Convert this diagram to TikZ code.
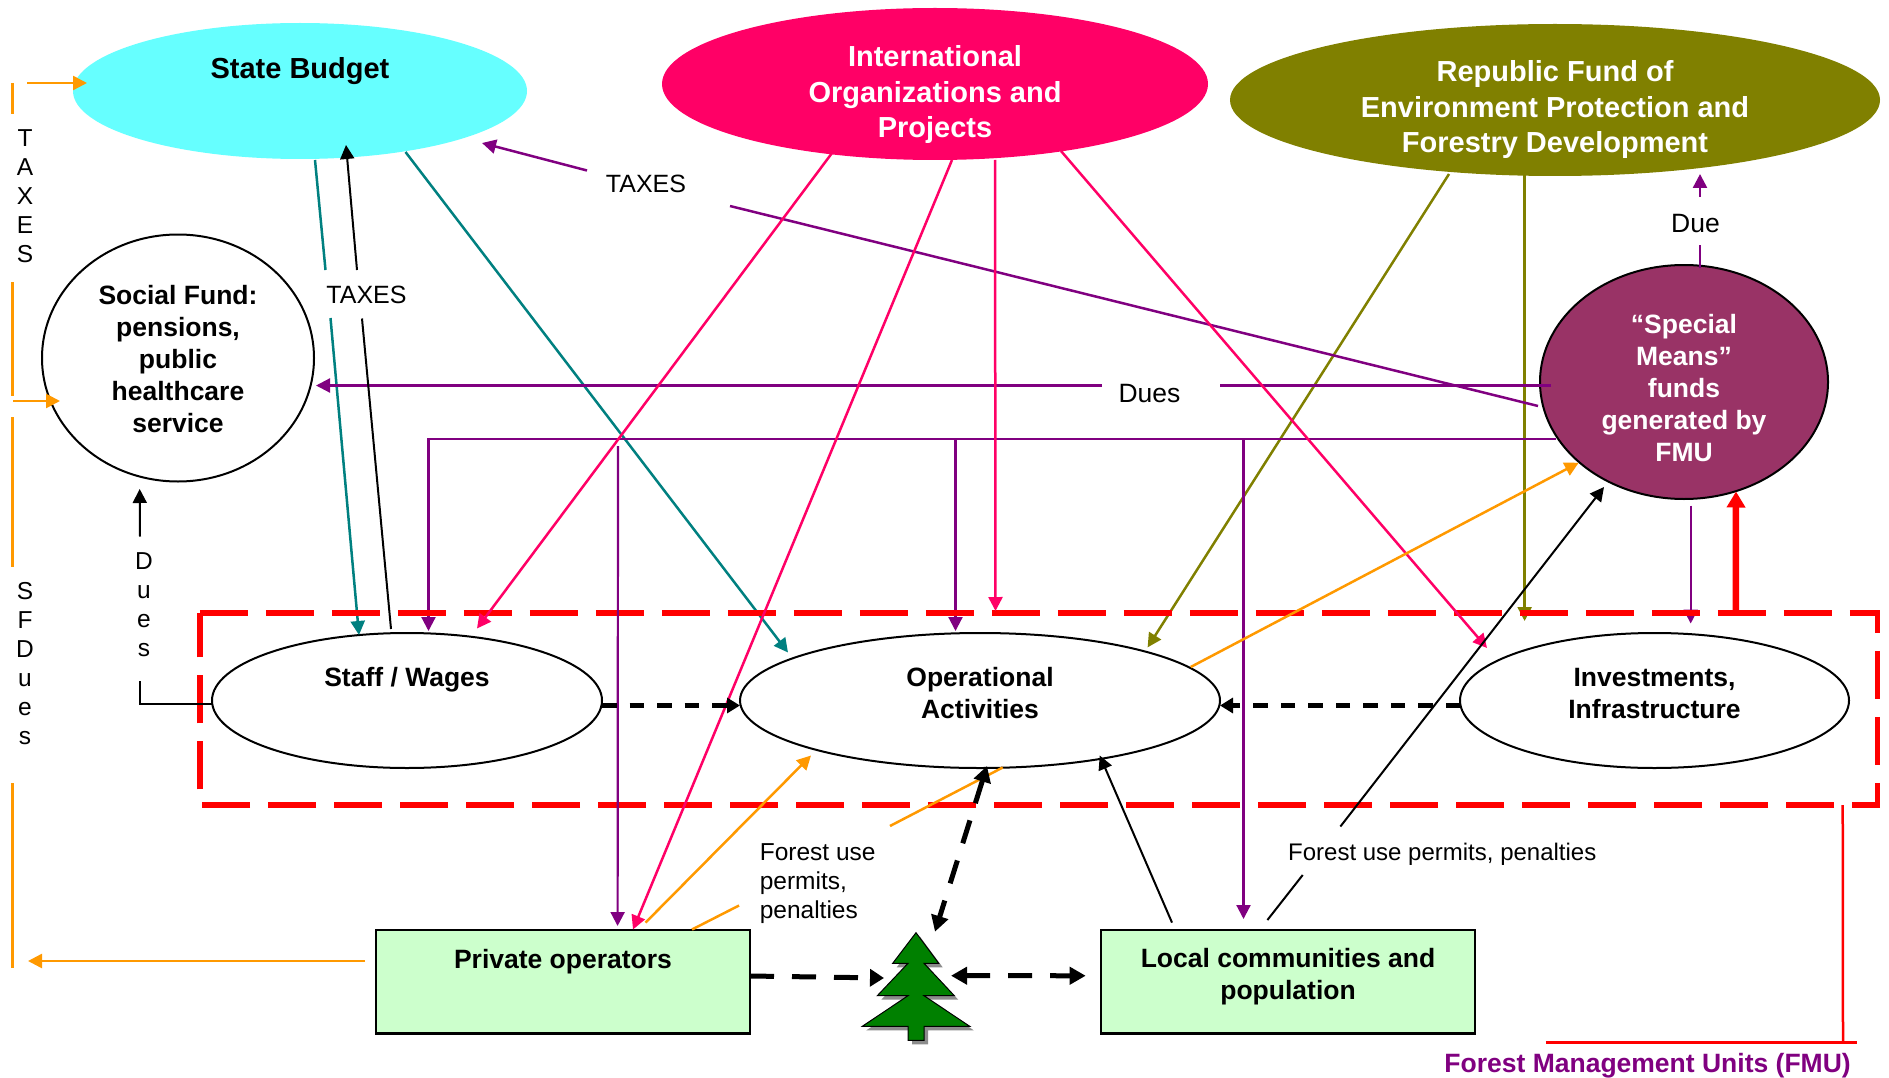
\documentclass[tikz,border=0pt]{standalone}
\usepackage{fontspec}
\setmainfont{Liberation Sans}
\usetikzlibrary{arrows.meta,calc,shapes.geometric}
\definecolor{cyanfill}{HTML}{66FFFF}
\definecolor{pinkc}{HTML}{FF0066}
\definecolor{olivec}{HTML}{808000}
\definecolor{plumc}{HTML}{993366}
\definecolor{tealc}{HTML}{008080}
\definecolor{purplec}{HTML}{800080}
\definecolor{orangec}{HTML}{FF9900}
\definecolor{boxgreen}{HTML}{CCFFCC}
\definecolor{treegreen}{HTML}{008000}
\definecolor{redc}{HTML}{FF0000}
\tikzset{
  shapeel/.style={ellipse,inner sep=0pt,minimum width=#1},
  lab/.style={align=center,font=\fontsize{26.5}{32}\selectfont\bfseries},
  biglab/.style={align=center,font=\fontsize{29}{35.5}\selectfont\bfseries},
  thin text/.style={font=\fontsize{24}{29}\selectfont},
  tax text/.style={font=\fontsize{25}{29}\selectfont},
  due text/.style={font=\fontsize{26.5}{29}\selectfont},
  stack/.style={align=center,font=\fontsize{24.5}{29}\selectfont,inner sep=0pt},
  headA/.style={-{Triangle[length=14pt,width=14pt]}},
  tealline/.style={draw=tealc,line width=2.5pt},
  pinkline/.style={draw=pinkc,line width=2.5pt},
  oliveline/.style={draw=olivec,line width=2.5pt},
  purpleline/.style={draw=purplec,line width=2.2pt},
  orangeline/.style={draw=orangec,line width=2.5pt},
  blackline/.style={draw=black,line width=2pt},
  dashA/.style={draw=black,line width=4.5pt,dash pattern=on 14.5pt off 13pt,
     -{Triangle[length=13pt,width=15pt]}},
  dashB/.style={draw=black,line width=5pt,dash pattern=on 24pt off 18pt,
     {Triangle[length=16pt,width=17pt]}-{Triangle[length=16pt,width=17pt]}},
  dashC/.style={draw=black,line width=5pt,dash pattern=on 24pt off 18pt,
     -{Triangle[length=14pt,width=17pt]}},
}
\begin{document}
\begin{tikzpicture}[x=1pt,y=-1pt]
\useasboundingbox (0,0) rectangle (1889,1078);

% sources
\node[shapeel=454pt,minimum height=136pt,fill=cyanfill,
  label={[biglab,yshift=19.6pt]center:State Budget}] (sb) at (300,91) {};
\node[shapeel=546pt,minimum height=152pt,fill=pinkc,
  label={[biglab,text=white,yshift=-11pt]center:International\\Organizations and\\Projects}] (intl) at (935,84) {};
\node[shapeel=650pt,minimum height=152pt,fill=olivec,
  label={[biglab,text=white,yshift=-10pt]center:Republic Fund of\\Environment Protection and\\Forestry Development}] (rep) at (1555,100) {};
\node[shapeel=272pt,minimum height=247pt,draw=black,line width=2pt,fill=white,
  label={[lab,yshift=-1pt]center:Social Fund:\\pensions,\\public\\healthcare\\service}] (sf) at (178,358) {};
\node[shapeel=288pt,minimum height=234pt,draw=black,line width=2pt,fill=plumc,
  label={[lab,text=white,yshift=-6pt]center:“Special\\Means”\\funds\\generated by\\FMU}] (sm) at (1684,382) {};

% activities
\node[shapeel=390pt,minimum height=135pt,draw=black,line width=2pt,fill=white,
  label={[lab,yshift=21pt]center:Staff / Wages}] (staff) at (407,700.5) {};
\node[shapeel=480pt,minimum height=135pt,draw=black,line width=2pt,fill=white,
  label={[lab,yshift=7.5pt]center:Operational\\Activities}] (op) at (980,700.5) {};
\node[shapeel=389pt,minimum height=135pt,draw=black,line width=2pt,fill=white,
  label={[lab,yshift=6.5pt]center:Investments,\\Infrastructure}] (inv) at (1654.5,700.5) {};

% boxes
\node[draw=black,line width=2.2pt,fill=boxgreen,minimum width=374pt,minimum height=103.5pt,inner sep=0pt,
  label={[lab,yshift=20.6pt]center:Private operators}] (priv) at (563,981.75) {};
\node[draw=black,line width=2.2pt,fill=boxgreen,minimum width=374pt,minimum height=103.5pt,inner sep=0pt,
  label={[lab,yshift=5.6pt]center:Local communities and\\population}] (loc) at (1288,981.75) {};

% labels
\node[tax text,inner sep=0pt] (taxA) at (646,184) {TAXES};
\node[tax text,inner sep=0pt] (taxB) at (366.5,295) {TAXES};
\node[due text,inner sep=0pt] (duesL) at (1149.5,394) {Dues};
\node[due text,inner sep=0pt] (dueL) at (1695.5,224) {Due};
\node[stack,align=left,anchor=west] (fuA) at (759.6,883.4) {Forest use\\permits,\\penalties};
\node[thin text,inner sep=0pt,anchor=west] (fuB) at (1288,854.4) {Forest use permits, penalties};
\node[stack] (vtax) at (25,196) {T\\A\\X\\E\\S};
\node[stack] (vsf) at (25,664) {S\\F\\D\\u\\e\\s};
\node[stack] (vdues) at (144,604.5) {D\\u\\e\\s};
\node[font=\fontsize{26.5}{32}\selectfont\bfseries,text=purplec,inner sep=0pt] (fmuL) at (1647.6,1065.4) {Forest Management Units (FMU)};

% frame anchor and tree anchor
\node[minimum width=1677.5pt,minimum height=192pt,inner sep=0pt] (fmu) at (1038.75,709) {};
\coordinate (tree) at (916,985);

% tree
\fill[black!45,shift={(4,4)}] (916,932.7) -- (938.7,963.3) -- (924,963.3) -- (954.3,995.7) -- (924,995.7) -- (969.7,1026.3) -- (924,1026.3) -- (924,1040.3) -- (908,1040.3) -- (908,1026.3) -- (862.3,1026.3) -- (908,995.7) -- (877.3,995.7) -- (908,963.3) -- (892.7,963.3) -- cycle;
\draw[fill=treegreen,draw=black,line width=1pt] (916,932.7) -- (938.7,963.3) -- (924,963.3) -- (954.3,995.7) -- (924,995.7) -- (969.7,1026.3) -- (924,1026.3) -- (924,1040.3) -- (908,1040.3) -- (908,1026.3) -- (862.3,1026.3) -- (908,995.7) -- (877.3,995.7) -- (908,963.3) -- (892.7,963.3) -- cycle;

% teal
\draw[tealline] ($(sb)+(15,69)$) -- ($(taxB)+(-41,-25)$);
\draw[tealline,headA] ($(taxB)+(-36,23)$) -- ($(staff)+(-48,-65.5)$);
\draw[tealline,headA] ($(sb)+(105.5,61)$) -- ($(op)+(-192,-48)$);
% olive
\draw[oliveline,headA] ($(rep)+(-106,74)$) -- ($(op)+(167.6,-53.1)$);
\draw[oliveline,headA] ($(rep)+(-30.4,75)$) -- ($(inv)+(-129.9,-79.5)$);
% purple network
\coordinate (jn) at (428.5,439);
\coordinate (jo) at (955.5,439);
\coordinate (jl) at (1243.5,439);
\coordinate (jp) at (618,446);
\draw[purpleline,headA] ($(sm)+(-128,57)$) -- (jn) -- ($(staff)+(21.5,-69.5)$);
\draw[purpleline,headA] (jo) -- ($(op)+(-24.5,-69.5)$);
\draw[purpleline,headA] ($(sm)+(6.7,123.5)$) -- ($(inv)+(36.2,-77)$);

% FMU frame
\draw[redc,line width=5.5pt,dash pattern=on 48pt off 18pt]
  (fmu.north west) -- (fmu.north east) -- (fmu.south east) -- (fmu.south west) -- cycle;
\draw[redc,line width=6.5pt,-{Triangle[length=16pt,width=18pt]}] ($(fmu.north west)+(1536,0)$) -- ($(sm)+(52,109.5)$);
\draw[redc,line width=2.5pt] ($(fmu.south east)+(-35,0)$) -- ($(fmuL)+(195.4,-22.7)$);
\draw[redc,line width=2.5pt] ($(fmuL)+(-101.8,-22.7)$) -- ($(fmuL)+(209.4,-22.7)$);

% thin purple over frame
\draw[purpleline,headA] (jp) -- ($(priv)+(54.6,-55.75)$);
\draw[purpleline,headA] (jl) -- ($(loc)+(-44.5,-62.75)$);
% due
\draw[purpleline,line width=2.5pt] ($(sm)+(16,-114)$) -- ($(dueL)+(4.5,21)$);
\draw[purpleline,line width=2.5pt,headA] ($(dueL)+(4.5,-27)$) -- ($(rep)+(145,74)$);
% taxes to state budget
\draw[purpleline,line width=2.5pt] ($(sm)+(-146,24)$) -- ($(taxA)+(84,22)$);
\draw[purpleline,line width=2.5pt,headA] ($(taxA)+(-59,-13.5)$) -- ($(sb)+(182,52)$);
% dues to social fund
\draw[purpleline] ($(sm)+(-133,3.5)$) -- ($(duesL)+(70.5,-8.5)$);
\draw[purpleline,headA] ($(duesL)+(-47.5,-8.5)$) -- ($(sf)+(138,27.5)$);

% pink
\draw[pinkline,headA] ($(intl)+(-103,69)$) -- ($(staff)+(70,-72)$);
\draw[pinkline,headA] ($(intl)+(17,76)$) -- ($(priv)+(70,-52.25)$);
\draw[pinkline,headA] ($(intl)+(60,76)$) -- ($(op)+(15.5,-89.5)$);
\draw[pinkline,headA] ($(intl)+(126,67)$) -- ($(inv)+(-167.5,-52.5)$);

% orange
\draw[orangeline,headA] ($(op)+(210.7,-33.5)$) -- ($(sm)+(-105.3,80.7)$);
\draw[orangeline,headA] ($(priv)+(82.5,-59.15)$) -- ($(op)+(-169,55)$);
\draw[orangeline] ($(priv)+(129,-52.25)$) -- ($(fuA.west)+(-20.6,22.1)$);
\draw[orangeline] ($(fuA.west)+(130.4,-57.4)$) -- ($(op)+(22.7,67)$);
\draw[orangeline] ($(vtax)+(-12.5,-113)$) -- ($(vtax)+(-12.5,-82)$);
\draw[orangeline] ($(vtax)+(-12.5,86)$) -- ($(vtax)+(-12.5,200)$);
\draw[orangeline] ($(vsf)+(-12.5,-247)$) -- ($(vsf)+(-12.5,-97)$);
\draw[orangeline] ($(vsf)+(-12.5,119)$) -- ($(vsf)+(-12.5,304)$);
\draw[orangeline,headA] ($(vtax)+(2,-113)$) -- ($(sb)+(-213,-8)$);
\draw[orangeline,headA] ($(vsf)+(-12,-263)$) -- ($(sf)+(-118,43)$);
\draw[orangeline,headA] ($(priv)+(-198,-20.75)$) -- ($(vsf)+(3,297)$);

% black
\draw[blackline] ($(staff)+(-16,-71.5)$) -- ($(taxB)+(-4.5,23.5)$);
\draw[blackline,headA] ($(taxB)+(-9.5,-25)$) -- ($(sb)+(46,54)$);
\draw[blackline,headA] ($(loc)+(-116,-59.15)$) -- ($(op)+(119.7,55)$);
\draw[blackline] ($(loc)+(-20.6,-61.75)$) -- ($(fuB.west)+(14.7,20.6)$);
\draw[blackline,headA] ($(fuB.west)+(52.4,-27.9)$) -- ($(sm)+(-80,105)$);
\draw[blackline] ($(staff)+(-195,3.5)$) -- ($(vdues)+(-4,99.5)$) -- ($(vdues)+(-4,76.2)$);
\draw[blackline,headA] ($(vdues)+(-4,-68)$) -- ($(sf)+(-38.3,131)$);

% dashed black
\draw[dashA] ($(staff)+(195,5)$) -- ($(op)+(-240,5)$);
\draw[dashA] ($(inv)+(-194.5,5)$) -- ($(op)+(240,5)$);
\draw[dashC] ($(priv)+(187,-5.75)$) -- ($(tree)+(-32,-7)$);
\draw[dashB] ($(tree)+(35,-9.3)$) -- ($(loc)+(-202.3,-6)$);
\draw[dashB] ($(op)+(7,65.5)$) -- ($(tree)+(19,-53.3)$);
\end{tikzpicture}
\end{document}
